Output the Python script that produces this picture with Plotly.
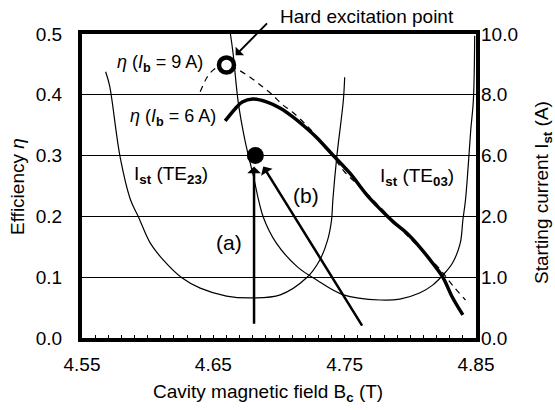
import plotly.graph_objects as go

# ---- data ----
te23_B = [4.568, 4.571, 4.579, 4.587, 4.593, 4.602, 4.612, 4.626, 4.640, 4.660,
          4.680, 4.701, 4.721, 4.731, 4.737, 4.740, 4.741, 4.744, 4.749, 4.750]
te23_pos = [0.438, 0.415, 0.298, 0.227, 0.199, 0.156, 0.128, 0.099, 0.082, 0.069,
            0.066, 0.071, 0.099, 0.128, 0.161, 0.194, 0.227, 0.298, 0.391, 0.429]

te03_B = [4.663, 4.665, 4.669, 4.674, 4.680, 4.688, 4.698, 4.714, 4.729, 4.749,
          4.777, 4.792, 4.807, 4.817, 4.825, 4.832, 4.838, 4.840, 4.842, 4.844,
          4.846, 4.848, 4.849]
te03_pos = [0.500, 0.469, 0.387, 0.326, 0.271, 0.199, 0.156, 0.117, 0.095, 0.071,
            0.0625, 0.064, 0.074, 0.087, 0.104, 0.123, 0.156, 0.194, 0.227, 0.281,
            0.342, 0.391, 0.497]

eta6_B = [4.659, 4.667, 4.672, 4.680, 4.691, 4.701, 4.711, 4.721, 4.729, 4.741,
          4.754, 4.767, 4.777, 4.787, 4.797, 4.807, 4.817, 4.825, 4.832, 4.840]
eta6 = [0.357, 0.378, 0.388, 0.393, 0.388, 0.378, 0.363, 0.345, 0.329, 0.301,
        0.271, 0.235, 0.212, 0.191, 0.173, 0.150, 0.123, 0.099, 0.067, 0.038]

eta9_B = [4.640, 4.645, 4.650, 4.655, 4.660, 4.669, 4.678, 4.687, 4.695, 4.702,
          4.710, 4.720, 4.731, 4.741, 4.750, 4.762, 4.777, 4.792, 4.807, 4.823,
          4.832, 4.842]
eta9 = [0.405, 0.428, 0.441, 0.447, 0.449, 0.441, 0.429, 0.414, 0.400, 0.385,
        0.372, 0.352, 0.326, 0.299, 0.273, 0.248, 0.215, 0.181, 0.148, 0.112,
        0.087, 0.0625]

hard_pt = (4.660, 0.449)
op_pt = (4.682, 0.300)

x_ticks = [4.55, 4.65, 4.75, 4.85]
y_ticks = [0.0, 0.1, 0.2, 0.3, 0.4, 0.5]
ist_tick_labels = ["0.0", "1.0", "2.0", "6.0", "8.0", "10.0"]

FONT = "Liberation Sans, Arial, sans-serif"

fig = go.Figure()
fig.add_trace(go.Scatter(x=te23_B, y=te23_pos, mode="lines", yaxis="y2",
                         line=dict(color="black", width=1.2, shape="spline"), showlegend=False))
fig.add_trace(go.Scatter(x=te03_B, y=te03_pos, mode="lines", yaxis="y2",
                         line=dict(color="black", width=1.2, shape="spline"), showlegend=False))
fig.add_trace(go.Scatter(x=eta9_B, y=eta9, mode="lines",
                         line=dict(color="black", width=1.2, dash="6px,5px", shape="spline"),
                         showlegend=False))
fig.add_trace(go.Scatter(x=eta6_B, y=eta6, mode="lines",
                         line=dict(color="black", width=3.5, shape="spline"), showlegend=False))
fig.add_trace(go.Scatter(x=[hard_pt[0]], y=[hard_pt[1]], mode="markers",
                         marker=dict(size=15, color="white", line=dict(color="black", width=4.5)),
                         showlegend=False))
fig.add_trace(go.Scatter(x=[op_pt[0]], y=[op_pt[1]], mode="markers",
                         marker=dict(size=17, color="black"), showlegend=False))

ann = []
# arrows (a) and (b)
ann.append(dict(x=4.681, y=0.282, ax=4.681, ay=0.021, xref="x", yref="y", axref="x", ayref="y",
                showarrow=True, arrowhead=1, arrowsize=0.9, arrowwidth=2.5, arrowcolor="black", text=""))
ann.append(dict(x=4.688, y=0.282, ax=4.764, ay=0.018, xref="x", yref="y", axref="x", ayref="y",
                showarrow=True, arrowhead=1, arrowsize=0.9, arrowwidth=2.5, arrowcolor="black", text=""))
# hard excitation arrow
ann.append(dict(x=4.667, y=0.465, ax=4.692, ay=0.520, xref="x", yref="y", axref="x", ayref="y",
                showarrow=True, arrowhead=1, arrowsize=1, arrowwidth=2, arrowcolor="black", text=""))


def txt(x, y, s, size=19, xanchor="center"):
    ann.append(dict(x=x, y=y, xref="paper", yref="paper", text=s, showarrow=False,
                    xanchor=xanchor, yanchor="middle", font=dict(family=FONT, size=size, color="black")))


W, H = 555, 410
L, R, T, B = 82, 476, 34, 338


def px(xp, yp):
    return (xp - L) / (R - L), (B - yp) / (B - T)


x0, y0 = px(367, 17)
txt(x0, y0, "Hard excitation point", 19)
x0, y0 = px(160, 63)
txt(x0, y0, "<i>η</i> (<i>I</i><sub><b>b</b></sub> = 9 A)", 18)
x0, y0 = px(173, 117)
txt(x0, y0, "<i>η</i> (<i>I</i><sub><b>b</b></sub> = 6 A)", 18)
x0, y0 = px(171, 175)
txt(x0, y0, "I<sub><b>st</b></sub> (TE<sub><b>23</b></sub>)", 19)
x0, y0 = px(417, 177)
txt(x0, y0, "I<sub><b>st</b></sub> (TE<sub><b>03</b></sub>)", 19)
x0, y0 = px(229, 242)
txt(x0, y0, "(a)", 21)
x0, y0 = px(306, 195)
txt(x0, y0, "(b)", 21)
# axis titles
x0, y0 = px(268, 393)
txt(x0, y0, "Cavity magnetic field B<sub><b>c</b></sub> (T)", 19)
x0, y0 = px(17, 187)
ann.append(dict(x=x0, y=y0, xref="paper", yref="paper", text="Efficiency <i>η</i>", showarrow=False,
                textangle=-90, xanchor="center", yanchor="middle",
                font=dict(family=FONT, size=19, color="black")))
x0, y0 = px(543, 193)
ann.append(dict(x=x0, y=y0, xref="paper", yref="paper",
                text="Starting current I<sub><b>st</b></sub> (A)", showarrow=False,
                textangle=-90, xanchor="center", yanchor="middle",
                font=dict(family=FONT, size=19, color="black")))

fig.update_layout(
    width=W, height=H,
    margin=dict(l=L, r=W - R, t=T, b=H - B, pad=0),
    paper_bgcolor="white", plot_bgcolor="white",
    font=dict(family=FONT, size=19, color="black"),
    showlegend=False,
    annotations=ann,
    xaxis=dict(range=[4.55, 4.85], tickvals=x_ticks, ticktext=[f"{v:.2f}" for v in x_ticks],
               ticks="inside", ticklen=3, tickwidth=1, tickcolor="black",
               minor=dict(dtick=0.01, tick0=4.55, ticks="inside", ticklen=3, tickwidth=1,
                          tickcolor="black", showgrid=False),
               showgrid=False, zeroline=False, showline=True, linewidth=4, linecolor="black",
               mirror=True, ticklabelstandoff=6, tickfont=dict(size=19)),
    yaxis=dict(range=[0, 0.5], tickvals=y_ticks, ticktext=[f"{v:.1f}" for v in y_ticks],
               ticks="", showgrid=True, gridcolor="black", gridwidth=1, zeroline=False,
               showline=True, linewidth=4, linecolor="black", mirror=True,
               ticklabelstandoff=12, tickfont=dict(size=19)),
    yaxis2=dict(range=[0, 0.5], overlaying="y", side="right", tickvals=y_ticks,
                ticktext=ist_tick_labels, ticks="", showgrid=False, zeroline=False,
                showline=False, ticklabelstandoff=4, tickfont=dict(size=19)),
)

fig.write_html("out.html")
